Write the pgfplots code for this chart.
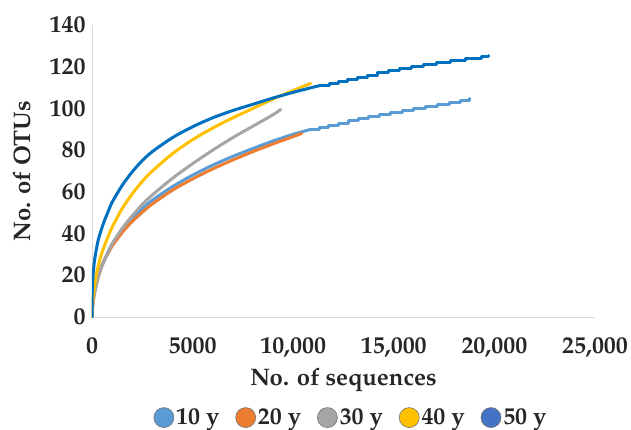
\documentclass[border=0pt]{standalone}
\usepackage{fontspec}
\setmainfont{texgyrepagella}[Extension=.otf, UprightFont=*-regular, BoldFont=*-bold, ItalicFont=*-italic, BoldItalicFont=*-bolditalic]
\usepackage{pgfplots}
\pgfplotsset{compat=1.18}
\definecolor{c10}{HTML}{5B9BD5}
\definecolor{c20}{HTML}{ED7D31}
\definecolor{c30}{HTML}{A5A5A5}
\definecolor{c40}{HTML}{FFC000}
\definecolor{c50}{HTML}{0070C0}
\definecolor{c50l}{HTML}{4472C4}
\newcommand{\bigf}{\fontsize{24}{28}\selectfont\bfseries}
\begin{document}
\begin{tikzpicture}
\begin{axis}[
  scale only axis, width=503bp, height=292bp,
  xmin=0, xmax=25000, ymin=0, ymax=140,
  axis lines*=left,
  axis line style={-, draw=black!15, line width=0.8pt},
  major tick length=0pt,
  xtick={0,5000,10000,15000,20000,25000},
  xticklabels={0,5000,{10,000},{15,000},{20,000},{25,000}},
  ytick={0,20,40,60,80,100,120,140},
  scaled x ticks=false,
  /pgf/number format/assume math mode=true,
  tick label style={font=\bigf, text=black!85},
  xticklabel style={yshift=-17bp},
  yticklabel style={xshift=-3bp},
  xlabel={No. of sequences},
  ylabel={No. of OTUs},
  label style={font=\bigf, text=black!85},
  xlabel style={yshift=-4bp},
  ylabel style={yshift=12bp},
  legend columns=5,
  legend style={at={(0.515,-0.30)}, anchor=north, draw=none, font=\bigf, text=black!85,
    /tikz/every even column/.append style={column sep=14bp}},
  legend cell align=left,
  every axis plot/.append style={line width=3bp, line join=round, line cap=round},
]
\addlegendimage{legend image code/.code={\draw[fill=c10, draw=black!55, line width=0.6pt] (10bp,0) circle (10bp);}}
\addlegendentry{10 y}
\addlegendimage{legend image code/.code={\draw[fill=c20, draw=black!55, line width=0.6pt] (10bp,0) circle (10bp);}}
\addlegendentry{20 y}
\addlegendimage{legend image code/.code={\draw[fill=c30, draw=black!55, line width=0.6pt] (10bp,0) circle (10bp);}}
\addlegendentry{30 y}
\addlegendimage{legend image code/.code={\draw[fill=c40, draw=black!55, line width=0.6pt] (10bp,0) circle (10bp);}}
\addlegendentry{40 y}
\addlegendimage{legend image code/.code={\draw[fill=c50l, draw=black!55, line width=0.6pt] (10bp,0) circle (10bp);}}
\addlegendentry{50 y}

% 10 y
\addplot[c10, smooth, forget plot] coordinates {
(0,0) (10,2.5) (30,5) (70,8.5) (130,12) (200,15) (300,19) (450,23.5) (650,28) (800,31.2) (1000,35)
(1500,41.8) (2000,47.3) (2500,52) (3000,56) (4000,62.5) (5000,68) (6000,72.8) (7000,77) (8000,80.8)
(9000,84.4) (10000,87.6) (10890,90)};
\addplot[c10, const plot, forget plot] coordinates {
(10890,90) (11320,91) (11770,92) (12250,93) (12750,94) (13250,95) (13750,96) (14280,97) (14830,98)
(15410,99) (16000,100) (16590,101) (17180,102) (17760,103) (18320,104) (18750,104.8)};
% 20 y
\addplot[c20, smooth, forget plot] coordinates {
(0,0) (10,2.5) (30,5) (70,8.5) (130,12) (200,15) (300,19) (450,23.5) (650,28) (800,30.5) (1000,34)
(1500,40.5) (2000,45.8) (2500,50.2) (3000,54.2) (4000,60.8) (5000,66.2) (6000,71) (7000,75.3)
(8000,79.3) (9000,83) (10000,86.5) (10420,88)};
% 30 y
\addplot[c30, smooth, forget plot] coordinates {
(0,0) (10,2.5) (30,5) (70,8.5) (130,12) (200,15) (300,19) (450,23.5) (650,28) (800,31) (1000,35)
(1500,42.5) (2000,48.5) (2500,54) (3000,58.5) (4000,66.5) (5000,73.5) (6000,80) (7000,86)
(8000,91.5) (9000,97) (9380,99.5)};
% 40 y
\addplot[c40, smooth, forget plot] coordinates {
(0,0) (10,3) (30,6.5) (70,11) (130,15.5) (200,19.5) (300,24) (450,29.5) (650,35) (800,38.5) (1000,43)
(1500,52) (2000,59) (2500,65) (3000,70) (4000,78.3) (5000,85) (6000,90.6) (7000,95.5) (8000,100)
(9000,104.5) (10000,108.6) (10870,112)};
% 50 y
\addplot[c50, smooth, forget plot] coordinates {
(0,0) (10,11) (30,16.5) (70,22) (130,27.5) (200,31.5) (300,36.5) (450,41.5) (650,47) (800,50.5) (1000,55)
(1500,63.1) (2000,69.6) (2500,75) (3000,79.3) (4000,86) (5000,91.2) (6000,95.5) (7000,99) (8000,102)
(9000,105) (10000,107.7) (11000,110.2) (11350,111)};
\addplot[c50, const plot, forget plot] coordinates {
(11350,111) (11780,112) (12240,113) (12710,114) (13200,115) (13700,116) (14210,117) (14740,118)
(15290,119) (15880,120) (16500,121) (17130,122) (17800,123) (18540,124) (19350,125) (19700,125.3)};
\coordinate (O) at (rel axis cs:0,0);
\end{axis}
\pgfresetboundingbox
\path[use as bounding box] ([xshift=-92bp,yshift=-113bp]O) rectangle ([xshift=539bp,yshift=317bp]O);
\end{tikzpicture}
\end{document}
